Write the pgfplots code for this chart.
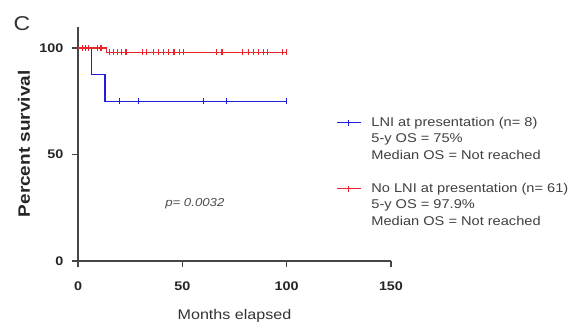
\documentclass[border=0pt]{standalone}
\usepackage{fontspec}
\setmainfont[FakeStretch=1.15]{Liberation Sans}
\usepackage{pgfplots}
\pgfplotsset{compat=1.18}
\definecolor{kmblue}{RGB}{30,30,220}
\definecolor{kmred}{RGB}{235,35,45}
\definecolor{axgray}{RGB}{70,70,70}
\pgfplotsset{kmlegend/.style={legend image code/.code={\draw[##1] (0pt,0pt) -- (24pt,0pt); \draw[##1] (12pt,-3pt) -- (12pt,3pt);}}}
\begin{document}
\begin{tikzpicture}
\begin{axis}[
  at={(0pt,0pt)}, anchor=south west,
  scale only axis, width=313pt, height=234.3pt,
  xmin=0, xmax=150, ymin=0, ymax=110,
  axis x line=bottom, axis y line=left,
  axis line style={-, axgray, line width=1.6pt},
  xtick={0,50,100,150}, ytick={0,50,100},
  tick align=outside, major tick length=6pt,
  tick style={axgray, line width=1.4pt},
  ticklabel style={font=\fontsize{12.5}{14}\selectfont\bfseries, text=black!85},
  xticklabel style={yshift=-11pt},
  yticklabel style={xshift=-5pt},
  /pgf/number format/assume math mode=true,
  xlabel={Months elapsed}, ylabel={Percent survival},
  xlabel style={at={(rel axis cs:0.5,0)}, anchor=base, yshift=-58pt, font=\fontsize{14}{16}\selectfont, text=black!80},
  ylabel style={at={(rel axis cs:0,0.5)}, anchor=center, yshift=54pt, font=\fontsize{16.5}{18}\selectfont\bfseries, text=black!85},
  clip=false,
  legend cell align=left,
  legend style={draw=none, fill=none, inner sep=0pt, at={(rel axis cs:0.824,0.627)}, anchor=north west,
    font=\fontsize{12.7}{14}\selectfont, text=black!75,
    nodes={inner sep=0pt, text height=12pt, text depth=4.5pt},
    row sep=0pt,
    /tikz/every odd column/.append style={column sep=10pt}},
]
% LNI at presentation
\addplot[kmblue, line width=1.3pt, const plot, forget plot] coordinates {(0,100) (6.5,87.5) (13,75) (100,75)};
\addplot[kmblue, only marks, mark=|, mark size=3pt, mark options={line width=1.1pt}, forget plot] coordinates {(20,75) (29,75) (60,75) (71,75) (100,75)};
% No LNI at presentation
\addplot[kmred, line width=1.3pt, const plot, forget plot] coordinates {(0,100) (13.7,98) (100,98)};
\addplot[kmred, only marks, mark=|, mark size=3pt, mark options={line width=1.1pt}, forget plot] coordinates {
 (2,100) (3.5,100) (5,100) (9.5,100) (11,100)
 (15,98) (17,98) (19,98) (21,98) (23,98) (31,98) (33,98) (36,98) (38.5,98) (41,98)
 (43.5,98) (46,98) (48.5,98) (50.5,98) (66.5,98) (69,98) (79,98) (81.5,98) (84,98)
 (86.5,98) (89,98) (91,98) (98,98) (100,98)};
% legend
\addlegendimage{kmblue, line width=1.3pt, kmlegend}
\addlegendentry{LNI at presentation (n= 8)}
\addlegendimage{empty legend}\addlegendentry{5-y OS = 75\%}
\addlegendimage{empty legend}\addlegendentry{Median OS = Not reached}
\addlegendimage{empty legend}\addlegendentry{}
\addlegendimage{kmred, line width=1.3pt, kmlegend}
\addlegendentry{No LNI at presentation (n= 61)}
\addlegendimage{empty legend}\addlegendentry{5-y OS = 97.9\%}
\addlegendimage{empty legend}\addlegendentry{Median OS = Not reached}
\node[font=\fontsize{11.5}{13}\selectfont\itshape, text=black!70] at (axis cs:56,26.8) {p= 0.0032};
\end{axis}
\node[font=\fontsize{20}{22}\selectfont, text=black!80] at (-56pt,237pt) {C};
\pgfresetboundingbox
\path[use as bounding box] (-78pt,-61pt) rectangle (495pt,261pt);
\end{tikzpicture}
\end{document}
